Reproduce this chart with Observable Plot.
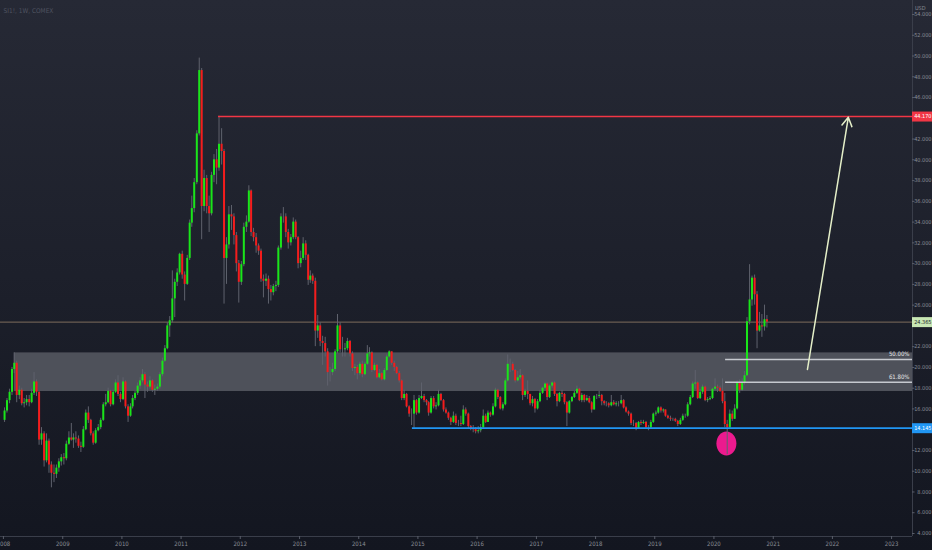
<!DOCTYPE html>
<html><head><meta charset="utf-8">
<script src="https://cdn.jsdelivr.net/npm/d3@7"></script>
<script src="https://cdn.jsdelivr.net/npm/@observablehq/plot@0.6"></script>
<style>
html,body{margin:0;padding:0;background:#181b25;}
#chart{width:932px;height:550px;background:linear-gradient(to bottom,#262935 0%,#1d202b 50%,#131620 100%);}
svg{display:block}
</style></head><body><div id="chart"></div>
<script>
// ---- data: SI1!, 1W, COMEX (semi-monthly candles) ----
const title = "SI1!, 1W, COMEX";
const startYear = 2008;
const firstOpen = 14.9;
const closes = [
15.8,16.8,17.6,19.8,20.4,17.3,17.8,16.5,16.6,16.9,16.6,17.5,18.6,17.6,13.0,13.6,11.0,12.9,10.6,9.8,9.7,10.3,10.9,11.3,
11.2,12.6,13.2,13.0,13.2,13.1,12.4,12.3,14.0,15.6,14.9,13.6,12.7,13.9,14.2,14.9,16.4,16.6,17.7,16.4,17.6,18.5,17.4,16.9,
18.6,16.2,15.3,16.2,17.0,17.5,18.2,18.7,19.3,18.3,18.1,18.7,17.8,17.9,18.1,19.3,20.6,21.8,24.0,24.5,26.6,28.2,29.1,30.9,
28.9,28.0,30.5,33.9,35.3,37.8,42.5,48.6,35.5,38.2,35.5,34.8,38.5,40.0,39.2,41.5,40.8,30.5,31.8,34.7,34.5,32.7,30.0,28.2,
29.9,33.5,34.0,37.0,33.0,32.5,31.7,31.2,28.5,28.3,28.5,27.5,27.2,27.8,27.9,31.5,34.5,34.5,33.0,32.0,32.5,34.0,32.5,30.0,
30.5,31.9,30.8,28.4,28.8,28.3,23.5,24.0,22.5,22.3,21.5,19.5,19.5,19.8,21.5,24.0,21.7,21.7,21.8,22.5,21.3,19.9,20.0,19.4,
20.3,19.3,20.3,21.3,21.4,19.7,20.2,19.0,19.4,18.8,19.7,21.0,21.5,20.4,20.0,19.4,18.7,17.0,17.4,16.2,15.5,15.5,16.8,15.6,
17.0,17.2,16.8,16.6,15.6,17.0,16.2,16.3,17.4,16.8,15.9,15.6,15.1,14.7,15.3,14.6,14.6,14.5,15.9,15.5,14.3,14.1,14.0,13.8,
13.9,14.2,15.3,14.7,15.6,15.4,16.2,17.8,17.1,16.0,16.4,18.7,20.3,20.3,19.7,18.7,19.0,19.2,17.3,17.7,17.4,16.5,16.9,16.0,
16.7,17.5,18.0,18.4,17.1,18.2,18.5,17.4,16.7,17.5,17.4,16.6,15.6,16.7,17.1,17.5,17.9,16.8,17.3,16.8,17.0,16.6,15.9,17.2,
17.2,17.3,16.7,16.5,16.5,16.3,16.6,16.4,16.5,16.5,16.8,16.1,15.7,15.5,14.6,14.6,14.1,14.7,14.6,14.7,14.2,14.2,14.7,15.5,
15.6,16.1,15.8,15.9,15.3,15.1,15.0,15.0,14.8,14.5,14.9,15.3,15.3,16.4,17.1,18.4,18.5,17.0,17.6,18.1,16.8,16.9,17.0,17.9,
18.1,18.0,17.7,16.7,14.5,14.2,15.5,15.0,16.0,18.5,17.8,18.5,19.2,24.4,26.5,28.6,27.0,23.5,24.0,23.9,24.6,24.365
];
const highs = [
16.1,17.0,17.9,20.0,21.4,20.6,18.2,18.0,17.0,17.3,17.3,17.9,19.5,18.8,17.7,14.2,13.8,13.6,13.1,10.9,10.6,10.6,11.2,11.6,
11.7,12.9,13.8,14.6,13.6,13.8,13.4,12.8,14.3,15.9,16.2,15.0,13.8,14.1,14.5,15.1,16.6,17.4,18.0,17.8,17.8,18.8,19.2,17.6,
19.0,18.7,16.4,16.5,17.3,17.7,18.5,19.0,19.8,19.5,18.6,19.1,18.8,18.3,18.4,19.5,20.9,22.1,24.3,24.9,29.3,28.5,29.5,31.0,
31.2,29.2,30.8,34.2,36.5,38.2,42.8,49.8,48.8,39.0,38.5,36.5,38.8,40.5,41.0,44.2,43.0,41.0,32.5,35.5,35.6,34.8,33.0,30.3,
30.2,33.9,34.6,37.5,37.1,33.4,32.9,31.9,31.4,28.9,29.0,28.8,27.9,28.0,28.3,31.7,34.8,35.4,34.8,33.3,32.8,34.4,34.2,32.6,
31.2,32.5,32.2,30.9,29.3,29.0,28.6,25.0,24.3,23.0,22.9,21.8,20.0,20.4,21.7,25.1,24.3,22.9,22.3,22.8,22.6,21.5,20.3,20.2,
20.5,20.6,20.5,22.1,21.9,21.5,20.4,20.3,19.8,19.5,19.9,21.2,21.6,21.5,20.6,20.1,19.6,18.8,17.8,17.5,16.3,16.0,17.3,16.9,
17.3,18.5,17.4,16.9,16.7,17.2,17.2,16.6,17.8,17.5,16.9,16.1,15.7,15.2,15.7,15.5,14.9,15.3,16.3,16.1,15.6,14.4,14.4,14.2,
14.3,14.5,15.9,15.5,15.8,15.7,16.5,18.0,17.9,17.2,16.6,18.9,21.2,20.8,20.5,19.8,19.6,19.8,19.3,17.9,18.7,17.3,17.2,17.0,
16.9,17.8,18.1,18.5,18.5,18.3,18.6,18.6,17.5,17.6,17.8,17.5,16.7,16.8,17.2,17.7,18.2,18.0,17.5,17.4,17.3,17.2,16.7,17.3,
17.4,17.7,17.4,16.8,16.7,16.6,17.3,16.8,16.7,16.7,17.3,16.9,16.2,15.8,15.6,14.9,14.7,14.8,14.9,14.9,14.8,14.4,14.9,15.6,
15.8,16.2,16.2,16.0,15.9,15.4,15.3,15.1,15.1,14.9,15.1,15.5,15.5,16.6,17.3,18.6,19.7,18.6,17.9,18.3,18.2,17.1,17.2,18.0,
18.9,18.3,18.2,18.9,17.5,14.9,15.9,15.8,16.4,18.7,18.8,18.9,19.6,24.8,29.9,28.8,28.9,27.3,25.3,25.1,26.0,25.0
];
const lows = [
14.7,15.6,16.5,17.3,19.4,16.6,16.9,16.3,16.1,16.3,16.2,16.5,17.3,17.2,12.5,12.5,10.4,10.8,9.8,8.4,8.9,9.3,9.9,10.5,
10.6,11.0,12.5,12.9,12.2,12.7,12.2,11.8,12.2,13.9,14.6,13.4,12.5,12.6,13.8,14.0,14.8,16.2,16.5,16.2,16.3,17.5,17.2,16.6,
16.8,16.0,14.7,15.2,16.0,16.8,17.3,17.9,18.5,17.0,17.6,17.9,17.6,17.3,17.7,17.9,19.1,20.5,21.7,22.9,24.3,24.8,27.8,28.9,
28.5,26.4,27.9,30.3,33.5,34.9,37.6,42.3,32.3,35.0,34.8,33.0,34.6,37.8,37.6,38.9,39.5,26.1,28.0,31.4,33.2,31.8,29.2,26.2,
27.9,29.7,33.0,33.9,32.6,32.1,31.0,30.8,28.2,26.7,27.8,26.1,26.4,26.9,27.3,27.7,31.3,33.9,32.5,31.4,31.7,32.3,32.3,29.5,
29.6,30.3,30.3,27.9,28.1,28.0,22.0,22.8,22.0,20.2,21.0,18.2,18.6,19.2,19.6,21.3,21.4,21.0,21.0,21.6,21.0,19.6,19.2,18.8,
19.2,19.0,19.2,20.2,21.0,19.5,19.6,18.9,18.9,18.7,18.7,19.6,20.9,20.2,19.6,19.3,18.5,16.8,16.8,16.1,15.2,14.4,14.15,15.4,
15.5,16.9,16.6,16.3,15.3,15.5,16.0,15.9,16.2,16.7,15.7,15.5,14.9,14.4,14.6,14.4,14.3,14.3,14.4,15.3,14.1,13.9,13.7,13.6,
13.6,13.7,14.1,14.6,14.7,15.2,15.3,16.1,16.9,15.9,15.8,16.3,18.6,19.5,19.6,18.5,18.6,18.8,16.8,17.1,16.9,16.3,16.2,15.6,
15.9,16.6,17.4,17.9,16.8,17.0,18.0,17.2,16.2,16.6,17.1,16.4,14.3,15.5,16.6,17.0,17.4,16.7,16.6,16.6,16.7,16.5,15.6,15.9,
16.9,17.0,16.3,16.3,16.2,16.1,16.2,16.3,16.2,16.2,16.4,16.0,15.6,15.3,14.4,14.3,13.9,14.1,14.4,14.5,14.1,13.9,14.1,14.6,
15.3,15.5,15.6,15.6,15.2,15.0,14.8,14.8,14.7,14.3,14.4,14.8,15.1,15.2,16.3,17.0,17.9,16.9,16.9,17.4,16.7,16.6,16.8,16.9,
17.8,17.6,17.6,16.5,14.2,11.6,14.1,14.8,15.0,15.9,17.5,17.7,18.3,19.1,24.1,25.9,26.0,21.8,23.4,22.9,23.5,23.8
];
const yearTicks = [2008,2009,2010,2011,2012,2013,2014,2015,2016,2017,2018,2019,2020,2021,2022,2023];
const priceTicks = [4,6,8,10,12,16,18,20,22,26,28,30,32,34,36,38,40,42,46,48,50,52,54];
const zone = {start:"2008-03-08", low:17.68, high:21.4};
const resistance = {start:"2011-08-20", value:44.17, label:"44.170"};
const support = {start:"2014-11-28", value:14.145, label:"14.145"};
const lastPrice = {value:24.365, label:"24.365"};
const fibStart = "2020-03-13";
const fibLevels = [{v:20.76, label:"50.00%"}, {v:18.58, label:"61.80%"}];
const arrowPath = {from:"2021-07-31", fromV:19.8, to:"2022-04-09", toV:44.1};
const marker = {date:"2020-03-18", v:12.67};

// ---- build ----
const xStart = new Date(2007, 11, 14), xEnd = new Date(2023, 4, 10);
const xRight = new Date(xEnd.getTime() + (xEnd - xStart) * 20 / 912);
const xTick = new Date(xEnd.getTime() + (xEnd - xStart) * 2.5 / 912);
const yDomain = [3.71, 55.35];
const candles = closes.map((c, i) => {
  const o = i === 0 ? firstOpen : closes[i - 1];
  const yr = startYear + Math.floor(i / 24), m = Math.floor((i % 24) / 2), d = i % 2 === 0 ? 8 : 23;
  return {date: new Date(yr, m, d), o, c, h: Math.max(highs[i], o, c), l: Math.min(lows[i], o, c),
          col: c >= o ? "#19e619" : "#f51c1c"};
});
const D = s => new Date(s + "T00:00:00");
const tags = [
  {v: resistance.value, label: resistance.label, bg: "#f23645", fg: "#ffffff"},
  {v: lastPrice.value, label: lastPrice.label, bg: "#c8e7b4", fg: "#1b1e28"},
  {v: support.value, label: support.label, bg: "#2196f3", fg: "#ffffff"}
];
const ellipse = {draw(ctx, size) {
  const r = Math.sqrt(size / Math.PI), rx = r, ry = r * 1.2, k = 0.5523;
  ctx.moveTo(rx, 0);
  ctx.bezierCurveTo(rx, k * ry, k * rx, ry, 0, ry);
  ctx.bezierCurveTo(-k * rx, ry, -rx, k * ry, -rx, 0);
  ctx.bezierCurveTo(-rx, -k * ry, -k * rx, -ry, 0, -ry);
  ctx.bezierCurveTo(k * rx, -ry, rx, -k * ry, rx, 0);
  ctx.closePath();
}};
const font = "'Liberation Sans Narrow', 'DejaVu Sans Condensed', 'Liberation Sans', sans-serif";

const chart = Plot.plot({
  width: 932, height: 550,
  marginLeft: 0, marginRight: 20, marginTop: 0, marginBottom: 14,
  style: {background: "transparent", color: "#8a8d96", fontFamily: font, fontSize: "6px"},
  x: {type: "time", domain: [xStart, xEnd], axis: null},
  y: {domain: yDomain, axis: null},
  color: {type: "identity"},
  marks: [
    Plot.rect([zone], {x1: d => D(d.start), x2: () => xEnd, y1: "low", y2: "high", fill: "#4e515a"}),
    Plot.ruleY([lastPrice], {y: "value", x1: () => xStart, x2: () => xEnd, stroke: "#7e6c5c", strokeWidth: 1}),
    Plot.dot([marker], {x: d => D(d.date), y: "v", r: 10, symbol: ellipse, fill: "#ec1a8e", stroke: "none"}),
    Plot.ruleX(candles, {x: "date", y1: "l", y2: "h", stroke: "#5f626d", strokeWidth: 1}),
    Plot.ruleX(candles, {x: "date", y1: "o", y2: "c", stroke: "col", strokeWidth: 2}),
    Plot.ruleY([resistance], {y: "value", x1: d => D(d.start), x2: () => xEnd, stroke: "#f23645", strokeWidth: 1.5}),
    Plot.ruleY([support], {y: "value", x1: d => D(d.start), x2: () => xEnd, stroke: "#2196f3", strokeWidth: 1.8}),
    Plot.ruleY(fibLevels, {y: "v", x1: () => D(fibStart), x2: () => xEnd, stroke: "#c6c9cf", strokeWidth: 1.5}),
    Plot.text(fibLevels, {x: () => xEnd, y: "v", text: "label", textAnchor: "end", dx: -3, dy: -5, fill: "#e6e6e6", fontSize: 6}),
    Plot.arrow([arrowPath], {x1: d => D(d.from), y1: "fromV", x2: d => D(d.to), y2: "toV", stroke: "#e4efc8", strokeWidth: 1.5, headLength: 10}),
    Plot.ruleY([yDomain[0]], {stroke: "#3a3e4a", strokeWidth: 1}),
    Plot.ruleX([xEnd], {stroke: "#3a3e4a", strokeWidth: 1}),
    Plot.axisX(yearTicks.map(y => new Date(y, 0, 1)), {tickFormat: "%Y", tickSize: 3, tickPadding: 2, fontSize: 6, stroke: "#5a5e6a", fill: "#8a8d96"}),
    Plot.ruleY(priceTicks, {y: d => d, x1: () => xEnd, x2: () => xTick, stroke: "#5a5e6a", strokeWidth: 1}),
    Plot.text(priceTicks, {x: () => xRight, y: d => d, text: d => d.toFixed(3), textAnchor: "end", dx: -1, fill: "#8a8d96", fontSize: 5.5}),
    Plot.ruleY(tags, {y: "v", x1: () => xEnd, x2: () => xRight, stroke: "bg", strokeWidth: 10}),
    Plot.text(tags, {x: () => xRight, y: "v", text: "label", textAnchor: "end", dx: -1, fill: "fg", fontSize: 5.5}),
    Plot.text(["USD"], {frameAnchor: "top-right", dx: 13, dy: 6, text: d => d, fill: "#8a8d96", fontSize: 5.5}),
    Plot.text([title], {frameAnchor: "top-left", dx: 3, dy: 8, text: d => d, textAnchor: "start", fill: "#4f5360", fontSize: 6.5})
  ]
});
document.getElementById("chart").appendChild(chart);
</script>
</body></html>
